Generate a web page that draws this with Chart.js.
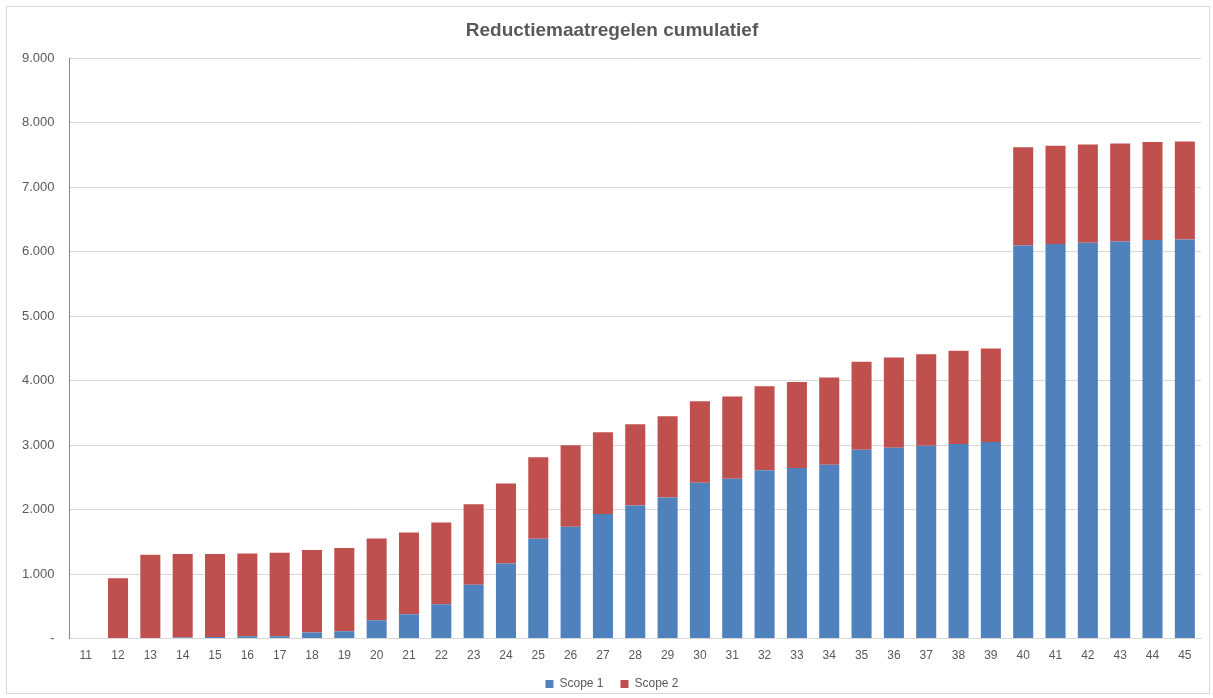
<!DOCTYPE html>
<html>
<head>
<meta charset="utf-8">
<script src="https://cdn.jsdelivr.net/npm/chart.js@4/dist/chart.umd.min.js"></script>
<style>
  html, body { margin: 0; padding: 0; background: #ffffff; }
  #frame { position: absolute; left: 6px; top: 6px; width: 1204px; height: 688px; border: 1px solid #d9d9d9; box-sizing: border-box; }
  canvas { position: absolute; left: 0; top: 0; }
  #title { position: absolute; left: 0; width: 1224px; top: 19px; text-align: center;
    font: bold 19px 'Liberation Sans', Arial, sans-serif; color: #595959; line-height: 22px; }
</style>
</head>
<body>
<div id="frame"><canvas id="c" width="1202" height="686"></canvas></div>
<div id="title"></div>
<script>
const categories = ['11','12','13','14','15','16','17','18','19','20','21','22','23','24','25','26','27','28','29','30','31','32','33','34','35','36','37','38','39','40','41','42','43','44','45'];
const scope1 = [0, 0, 10, 18, 25, 35, 35, 93, 114, 285, 378, 533, 833, 1163, 1546, 1732, 1933, 2062, 2186, 2414, 2476, 2611, 2645, 2696, 2927, 2958, 2990, 3016, 3047, 6094, 6115, 6136, 6157, 6178, 6188];
const scope2 = [0, 936, 1288, 1292, 1285, 1285, 1295, 1280, 1291, 1265, 1265, 1265, 1251, 1240, 1266, 1266, 1267, 1262, 1262, 1266, 1276, 1302, 1332, 1351, 1366, 1398, 1418, 1445, 1450, 1524, 1524, 1524, 1518, 1518, 1519];
const seriesNames = ['Scope 1', 'Scope 2'];
const titleText = 'Reductiemaatregelen cumulatief';

document.getElementById('title').textContent = titleText;

function fmt(v) {
  if (v === 0) return '-';
  return String(Math.round(v)).replace(/\B(?=(\d{3})+(?!\d))/g, '.');
}

// Legend uses a wide horizontal gap between items; keep its vertical footprint compact.
const LEGEND_PAD = 17, LEGEND_LIFT = 12, LEGEND_SHIFT_X = 8;
const legendCompact = {
  id: 'legendCompact',
  beforeUpdate(chart) {
    const lg = chart.legend;
    if (lg && !lg._compact) {
      const origFit = lg.fit, origDraw = lg._draw;
      lg.fit = function () { origFit.call(this); this.height -= LEGEND_LIFT; };
      lg._draw = function () {
        const ctx = this.ctx; ctx.save(); ctx.translate(LEGEND_SHIFT_X, -LEGEND_LIFT);
        origDraw.call(this); ctx.restore();
      };
      lg._compact = true;
    }
  }
};

new Chart(document.getElementById('c'), {
  type: 'bar',
  data: {
    labels: categories,
    datasets: [
      { label: seriesNames[0], data: scope1, backgroundColor: '#4f81bd', borderColor: '#4f81bd', borderWidth: 0 },
      { label: seriesNames[1], data: scope2, backgroundColor: '#c0504d', borderColor: '#c0504d', borderWidth: 0 }
    ]
  },
  plugins: [legendCompact],
  options: {
    responsive: false,
    animation: false,
    layout: { padding: { left: 0, right: 8, top: 51, bottom: -7 } },
    datasets: { bar: { categoryPercentage: 1.0, barPercentage: 0.62 } },
    plugins: {
      title: { display: false },
      legend: {
        position: 'bottom',
        labels: {
          color: '#595959', boxWidth: 8, boxHeight: 8, padding: LEGEND_PAD,
          font: { family: 'Liberation Sans, Arial, sans-serif', size: 12 }
        }
      },
      tooltip: { enabled: false }
    },
    scales: {
      x: {
        stacked: true,
        grid: { display: false, drawTicks: false },
        border: { color: '#d9d9d9', width: 1 },
        ticks: { color: '#595959', padding: 10, maxRotation: 0, autoSkip: false,
          font: { family: 'Liberation Sans, Arial, sans-serif', size: 12 } }
      },
      y: {
        stacked: true,
        min: 0, max: 9000,
        grid: { color: '#d9d9d9', lineWidth: 1, drawTicks: false },
        border: { color: '#868686', width: 1 },
        ticks: { stepSize: 1000, color: '#595959', padding: 15,
          font: { family: 'Liberation Sans, Arial, sans-serif', size: 13 },
          callback: (v) => fmt(v) }
      }
    }
  }
});
</script>
</body>
</html>
